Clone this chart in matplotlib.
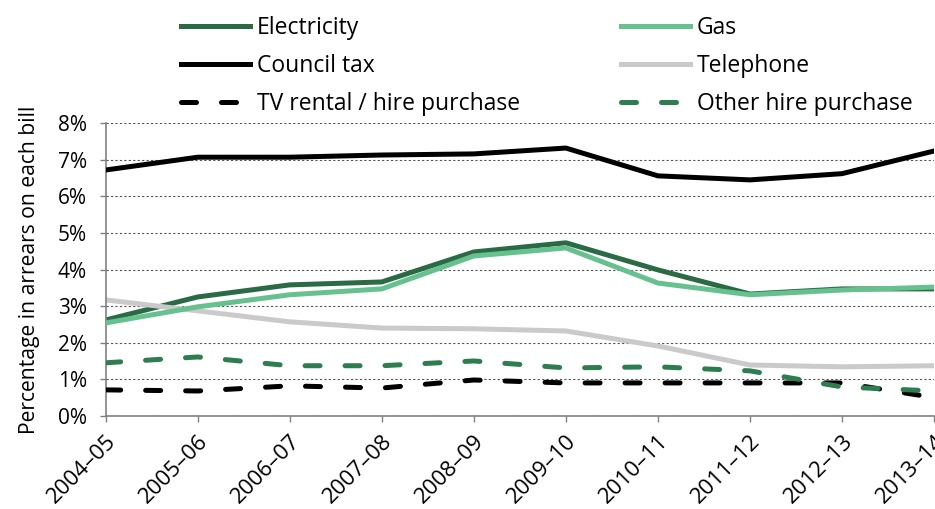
import matplotlib.pyplot as plt
import numpy as np

plt.rcParams['font.family'] = ['Open Sans', 'DejaVu Sans']

years = ['2004–05', '2005–06', '2006–07', '2007–08', '2008–09',
         '2009–10', '2010–11', '2011–12', '2012–13', '2013–14']

electricity = [2.62, 3.25, 3.58, 3.66, 4.48, 4.73, 3.99, 3.33, 3.47, 3.47]
gas = [2.54, 2.98, 3.31, 3.47, 4.37, 4.59, 3.63, 3.31, 3.44, 3.52]
council_tax = [6.72, 7.07, 7.07, 7.13, 7.16, 7.32, 6.56, 6.45, 6.62, 7.24]
telephone = [3.17, 2.87, 2.57, 2.40, 2.38, 2.32, 1.91, 1.39, 1.34, 1.37]
tv_rental = [0.71, 0.68, 0.82, 0.76, 0.98, 0.90, 0.90, 0.90, 0.90, 0.50]
other_hp = [1.45, 1.61, 1.37, 1.37, 1.50, 1.31, 1.34, 1.23, 0.79, 0.68]

fig = plt.figure(figsize=(9.35, 5.09), dpi=100)
ax = fig.add_axes([0.113, 0.183, 0.886, 0.575])

x = np.arange(len(years))
lw = 3.6
dash = (0, (3, 5))

l1, = ax.plot(x, electricity, color='#2a6b45', lw=lw, label='Electricity', zorder=2)
l3, = ax.plot(x, council_tax, color='black', lw=lw, label='Council tax', zorder=3)
l5, = ax.plot(x, tv_rental, color='black', lw=lw, ls=dash,
              dash_capstyle='round', label='TV rental / hire purchase', zorder=3)
l2, = ax.plot(x, gas, color='#66c18f', lw=lw, label='Gas', zorder=3)
l4, = ax.plot(x, telephone, color='#cacaca', lw=lw, label='Telephone', zorder=2)
l6, = ax.plot(x, other_hp, color='#2e7d50', lw=lw, ls=dash,
              dash_capstyle='round', label='Other hire purchase', zorder=3)

ax.set_xlim(0, len(years) - 1)
ax.set_ylim(0, 8)
ax.set_yticks(range(9))
ax.set_yticklabels([f'{v}%' for v in range(9)], fontsize=15)
ax.set_xticks(x)
ax.set_xticklabels(years, rotation=45, ha='right', rotation_mode='anchor', fontsize=16)
ax.tick_params(axis='both', direction='out', length=4.5, color='#808080', width=1)
ax.tick_params(axis='x', pad=6)
ax.tick_params(axis='y', pad=9)

ax.yaxis.grid(True, linestyle=(0, (2, 2)), color='#555555', lw=0.8)
ax.set_axisbelow(True)
for side in ('top', 'right'):
    ax.spines[side].set_visible(False)
for side in ('left', 'bottom'):
    ax.spines[side].set_color('#808080')
    ax.spines[side].set_linewidth(1.2)

ax.set_ylabel('Percentage in arrears on each bill', fontsize=15.2, labelpad=13)

fig.legend(handles=[l1, l3, l5, l2, l4, l6], ncol=2, frameon=False,
           loc='upper left', bbox_to_anchor=(0.172, 1.01), fontsize=16.5,
           handlelength=3.0, handletextpad=0.3, columnspacing=4.4,
           labelspacing=0.62)

fig.savefig('out.png', dpi=100)
